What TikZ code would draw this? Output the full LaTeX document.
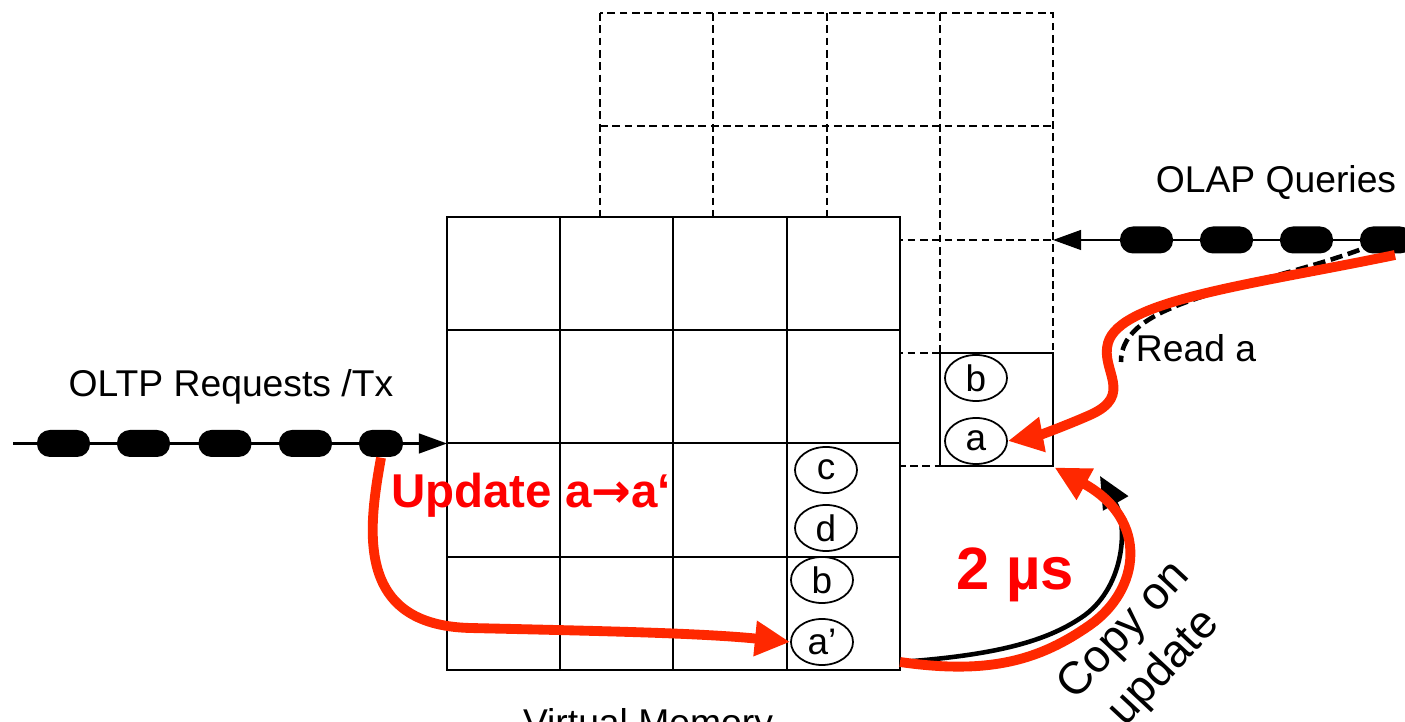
\documentclass[tikz,border=0pt]{standalone}
\usepackage{fontspec}
\setmainfont{Liberation Sans}
\newfontfamily\arrowfont{DejaVu Sans}
\usetikzlibrary{arrows.meta,shapes.geometric}

\definecolor{hotred}{RGB}{255,40,0}
\definecolor{labelred}{RGB}{255,0,0}

\tikzset{
  pill/.style={fill=black,rounded corners=1.3mm,minimum width=5.3mm,minimum height=2.7mm,inner sep=0pt},
  tuple/.style={ellipse,draw,line width=0.5pt,minimum width=6.2mm,minimum height=4.6mm,inner sep=0pt,font=\fontsize{10.5}{12}\selectfont},
  txt/.style={inner sep=0pt,font=\fontsize{10.6}{12.8}\selectfont},
  feed/.style={line width=0.7pt,-{Triangle[length=8pt,width=5.6pt]}},
  flow/.style={hotred,line width=2.8pt,-{Triangle[length=10pt,width=9.5pt]}},
  shadow/.style={line width=0.8pt,dash pattern=on 2.2pt off 1.3pt},
}

\begin{document}
\begin{tikzpicture}[x=0.01cm,y=-0.01cm]
  \useasboundingbox (0,0) rectangle (1405,722);

  % snapshot pages (shadow copy)
  \begin{scope}[shadow]
    \draw (600,13) rectangle (1053,466);
    \draw (713,13) -- (713,466);
    \draw (827,13) -- (827,466);
    \draw (940,13) -- (940,466);
    \draw (600,126) -- (1053,126);
    \draw (600,240) -- (1053,240);
    \draw (600,353) -- (1053,353);
  \end{scope}

  % virtual memory pages
  \begin{scope}[line width=0.8pt]
    \filldraw[fill=white] (447,217) rectangle (900,670);
    \draw (560,217) -- (560,670);
    \draw (673,217) -- (673,670);
    \draw (787,217) -- (787,670);
    \draw (447,330) -- (900,330);
    \draw (447,443) -- (900,443);
    \draw (447,557) -- (900,557);
    \node[draw,fill=white,minimum width=1.13cm,minimum height=1.13cm,inner sep=0pt] (page) at (996.5,409.5) {};
  \end{scope}

  \begin{scope}[every node/.style={tuple}]
    \node (c)  at (826,470) {c};
    \node (d)  at (826,528) {d};
    \node (b1) at (822,580) {b};
    \node (a1) at (822,642) {a'};
    \node (b2) at (976,378) {b};
    \node (a2) at (976,441) {a};
  \end{scope}

  % OLTP stream
  \coordinate (oltpin) at (13,443.5);
  \coordinate (vmleft) at (447,443.5);
  \draw[feed] (oltpin) -- (vmleft);
  \begin{scope}[every node/.style={pill}]
    \node (p1) at (63.5,443.5)  {};
    \node (p2) at (143.5,443.5) {};
    \node (p3) at (225,443.5)   {};
    \node (p4) at (305.5,443.5) {};
    \node[minimum width=4.4mm] (p5) at (381,443.5) {};
  \end{scope}

  % OLAP stream
  \coordinate (olapin) at (1405,240);
  \coordinate (snapright) at (1053,240);
  \draw[feed] (olapin) -- (snapright);
  \begin{scope}[every node/.style={pill}]
    \node (q1) at (1146.5,240) {};
    \node (q2) at (1226.5,240) {};
    \node (q3) at (1306.5,240) {};
    \node (q4) at (1386.5,240) {};
  \end{scope}

  % labels
  \node[txt] (oltp) at (231,387) {OLTP Requests /Tx};
  \node[txt] (olap) at (1276,183) {OLAP Queries};
  \node[txt] (read) at (1196,348) {Read a};
  \node[txt,anchor=base] (vm) at (648,736) {Virtual Memory};
  \node[txt,font=\fontsize{13}{15.5}\selectfont,rotate=47,align=center] (cou) at (1145,650) {Copy on\\update};
  \node[text=labelred,font=\bfseries\fontsize{13.5}{16}\selectfont,inner sep=0pt] (upd) at (531,495) {Update a{\arrowfont\bfseries →}a‘};
  \node[text=labelred,font=\bfseries\fontsize{17}{20}\selectfont,inner sep=0pt] (lat) at (1015,575) {2 µs};

  % read path
  \coordinate (vmcorner) at (900,662);
  \draw[line width=1.3pt,dash pattern=on 3.5pt off 1.6pt] (q4) .. controls (1250,290) and (1120,300) .. (1121,362);
  \draw[line width=1.3pt,-{Triangle[length=9pt,width=8pt]}] (vmcorner) .. controls (1000,655) and (1050,640) .. (1085,615)
    .. controls (1125,585) and (1128,525) .. (1100,476);

  % red flows
  \draw[flow] (p5.south) .. controls (368,530) and (355,625) .. (470,628)
    .. controls (600,631) and (700,633) .. (a1.west);
  \draw[flow] (1395,255) .. controls (1250,285) and (1120,300) .. (1108,343)
    .. controls (1100,370) and (1135,395) .. (1090,415)
    .. controls (1065,426) and (1040,435) .. (a2.east);
  \draw[flow] (vmcorner) .. controls (990,675) and (1040,660) .. (1090,625)
    .. controls (1140,590) and (1150,520) .. (page.south east);
\end{tikzpicture}
\end{document}
